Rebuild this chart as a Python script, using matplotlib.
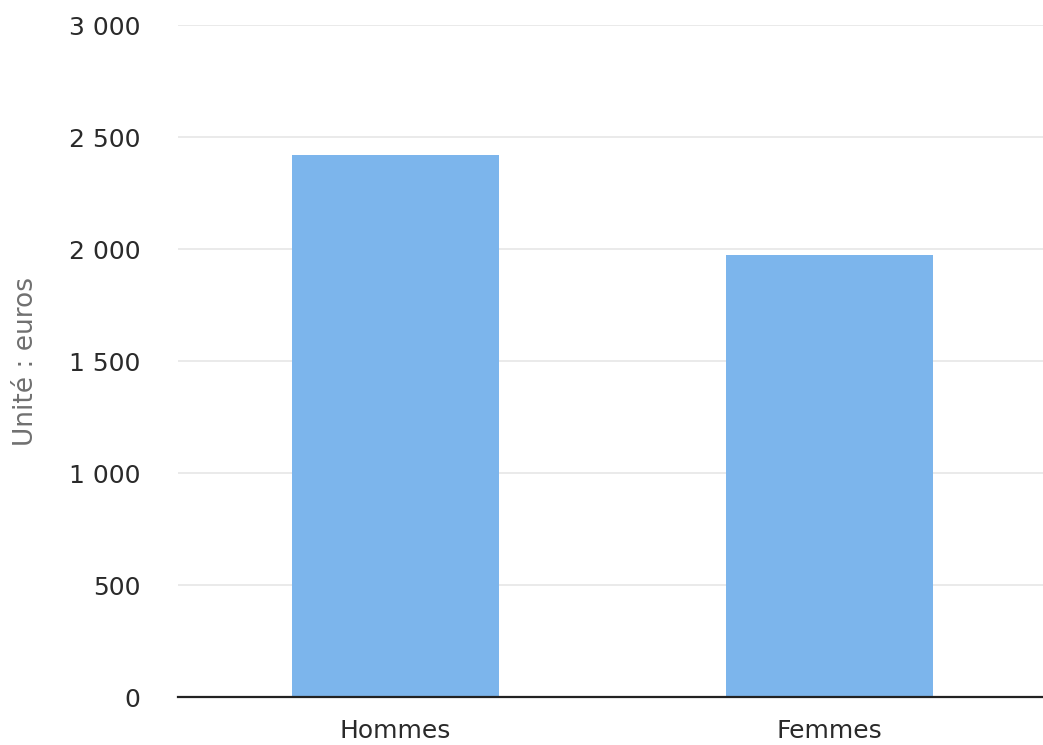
import matplotlib.pyplot as plt
from matplotlib.ticker import FuncFormatter

categories = ["Hommes", "Femmes"]
values = [2420, 1975]
y_ticks = [0, 500, 1000, 1500, 2000, 2500, 3000]

fig = plt.figure(figsize=(10.43, 7.45), dpi=100)
ax = fig.add_axes([0.1706, 0.0644, 0.833, 0.902])

x = range(len(categories))
ax.bar(x, values, width=0.477, color="#7cb5ec", zorder=2)

ax.set_xlim(-0.5, len(categories) - 0.5)
ax.set_ylim(0, 3000)
ax.set_yticks(y_ticks)
ax.yaxis.set_major_formatter(FuncFormatter(lambda v, p: f"{int(v):,}".replace(",", " ")))
ax.set_xticks(list(x))
ax.set_xticklabels(categories)

ax.grid(axis="y", color="#e6e6e6", linewidth=1.2, zorder=0)
for s in ["top", "right", "left"]:
    ax.spines[s].set_visible(False)
ax.spines["bottom"].set_color("#222222")
ax.spines["bottom"].set_linewidth(1.6)
ax.spines["bottom"].set_zorder(3)

ax.tick_params(axis="y", length=0, pad=27, labelsize=18, labelcolor="#2a2a2a")
ax.tick_params(axis="x", length=0, pad=16, labelsize=18, labelcolor="#2a2a2a")

ax.set_ylabel("Unité : euros", fontsize=19, color="#707070")
ax.yaxis.set_label_coords(-0.16, 0.5)

plt.savefig("out.png", dpi=100)
